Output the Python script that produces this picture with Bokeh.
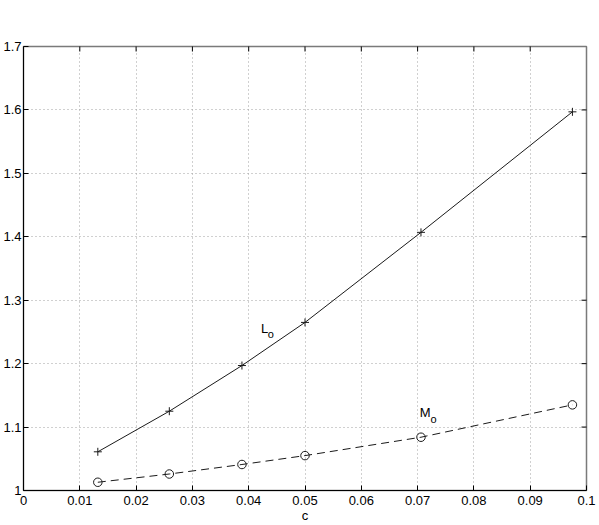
import math
from bokeh.plotting import figure
from bokeh.models import Range1d, FixedTicker, ColumnDataSource
from bokeh.core.properties import value
from bokeh.embed import file_html
from bokeh.resources import INLINE

# ---- data ----
c_vals = [0.0132, 0.0259, 0.0388, 0.0500, 0.0706, 0.0975]
L_vals = [1.061, 1.125, 1.197, 1.265, 1.407, 1.597]
M_vals = [1.013, 1.026, 1.041, 1.055, 1.084, 1.135]

x_ticks = [0, 0.01, 0.02, 0.03, 0.04, 0.05, 0.06, 0.07, 0.08, 0.09, 0.1]
x_tick_labels = ["0", "0.01", "0.02", "0.03", "0.04", "0.05", "0.06", "0.07", "0.08", "0.09", "0.1"]
y_ticks = [1, 1.1, 1.2, 1.3, 1.4, 1.5, 1.6, 1.7]
y_tick_labels = ["1", "1.1", "1.2", "1.3", "1.4", "1.5", "1.6", "1.7"]

# curve labels (main letter and subscript)
lab_main = ["L", "M"]
lab_main_x = [0.0422, 0.0704]
lab_main_y = [1.256, 1.1226]
lab_sub = ["o", "o"]
lab_sub_x = [0.0434, 0.0723]
lab_sub_y = [1.247, 1.1132]

FONT = "Liberation Sans"
INK = "#1a1a1a"

x0, x1 = x_ticks[0], x_ticks[-1]
y0, y1 = y_ticks[0], y_ticks[-1]

p = figure(width=599, height=525, output_backend="svg", toolbar_location=None,
           x_range=Range1d(x0, x1), y_range=Range1d(y0, y1),
           min_border_left=22, min_border_right=13, min_border_top=46, min_border_bottom=34)

p.background_fill_color = "white"
p.border_fill_color = "white"
p.outline_line_color = "#7a7a7a"
p.outline_line_width = 1.5

# axes
for ax in (p.xaxis[0], p.yaxis[0]):
    ax.major_tick_in = 5
    ax.major_tick_out = 0
    ax.minor_tick_in = 0
    ax.minor_tick_out = 0
    ax.axis_line_color = "black"
    ax.major_tick_line_color = "black"
    ax.major_label_text_font = FONT
    ax.major_label_text_font_size = "13px"
    ax.major_label_text_color = "black"

p.xaxis[0].ticker = FixedTicker(ticks=x_ticks)
p.xaxis[0].major_label_overrides = {t: s for t, s in zip(x_ticks, x_tick_labels)}
p.xaxis[0].major_label_standoff = 5
p.xaxis[0].axis_label = "c"
p.xaxis[0].axis_label_text_font = FONT
p.xaxis[0].axis_label_text_font_size = "13px"
p.xaxis[0].axis_label_text_font_style = "normal"
p.xaxis[0].axis_label_text_color = "black"
p.xaxis[0].axis_label_standoff = 0

p.yaxis[0].ticker = FixedTicker(ticks=y_ticks)
p.yaxis[0].major_label_overrides = {t: s for t, s in zip(y_ticks, y_tick_labels)}
p.yaxis[0].major_label_standoff = 2

# grid
p.xgrid.ticker = FixedTicker(ticks=x_ticks[1:-1])
p.ygrid.ticker = FixedTicker(ticks=y_ticks[1:-1])
for g in (p.xgrid[0], p.ygrid[0]):
    g.grid_line_color = "#a0a0a0"
    g.grid_line_dash = "1 3"
    g.grid_line_width = 1

# inward tick marks on the top and right borders (half of each dash lies in the frame)
p.scatter(x_ticks[1:-1], [y1] * (len(x_ticks) - 2), marker="dash", angle=math.pi / 2,
          size=10, line_color="black", line_width=1)
p.scatter([x1] * (len(y_ticks) - 2), y_ticks[1:-1], marker="dash",
          size=10, line_color="black", line_width=1)

src = ColumnDataSource(dict(c=c_vals, L=L_vals, M=M_vals))

p.line("c", "L", source=src, line_color=INK, line_width=1)
p.scatter("c", "L", source=src, marker="cross", size=8, line_color=INK, line_width=1)

p.line("c", "M", source=src, line_color=INK, line_width=1, line_dash="8 5")
p.scatter("c", "M", source=src, marker="circle", size=8.5, line_color=INK,
          fill_color=None, line_width=1)

p.text(lab_main_x, lab_main_y, text=lab_main, text_font=value(FONT),
       text_font_size="13px", text_color="black", text_baseline="alphabetic", text_align="left")
p.text(lab_sub_x, lab_sub_y, text=lab_sub, text_font=value(FONT),
       text_font_size="11px", text_color="black", text_baseline="alphabetic", text_align="left")

open("out.html", "w").write(file_html(p, INLINE))
